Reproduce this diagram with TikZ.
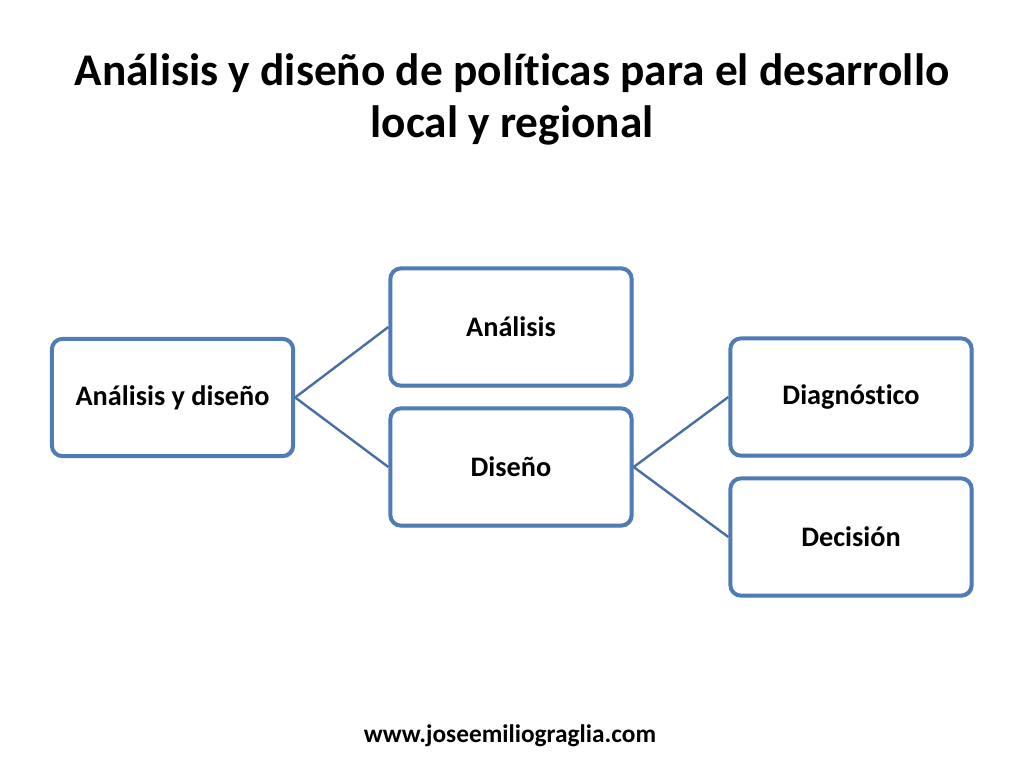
\documentclass[tikz,border=0pt]{standalone}
\usepackage{fontspec}
\setmainfont{Carlito}[Ligatures={NoCommon}]
\usetikzlibrary{shadows}
\definecolor{boxblue}{RGB}{79,124,182}
\definecolor{lineblue}{RGB}{72,110,162}
\tikzset{
	etapa/.style={draw=boxblue,line width=3pt,rounded corners=8pt,fill=white,
		minimum width=181pt,minimum height=88pt,inner sep=0pt,
		font=\fontsize{21.2}{25}\selectfont\bfseries,
		drop shadow={shadow xshift=1.2pt,shadow yshift=-1.2pt,opacity=0.25,fill=black}},
	enlace/.style={draw=lineblue,line width=1.8pt}
}
\begin{document}
\begin{tikzpicture}[x=0.75pt,y=-0.75pt]
	\useasboundingbox (0,0) rectangle (1024,768);
	% titulo y pie
	\node[font=\fontsize{34}{39}\selectfont\bfseries,align=center,anchor=base] (titulo) at (512,137)
	{Análisis y diseño de políticas para el desarrollo\\local y regional};
	\node[font=\fontsize{19}{22}\selectfont\bfseries,anchor=base] (web) at (510,742) {www.joseemiliograglia.com};
	% cajas
	\node[etapa] (ad) at (172.5,397.5) {Análisis y diseño};
	\node[etapa] (an) at (511,327) {Análisis};
	\node[etapa] (di) at (511,467) {Diseño};
	\node[etapa] (dg) at (851,397) {Diagnóstico};
	\node[etapa] (dc) at (851,537) {Decisión};
	% enlaces
	\foreach \a/\b in {ad/an,ad/di,di/dg,di/dc}
	\draw[enlace] (\a.east)--(\b.west);
\end{tikzpicture}
\end{document}
